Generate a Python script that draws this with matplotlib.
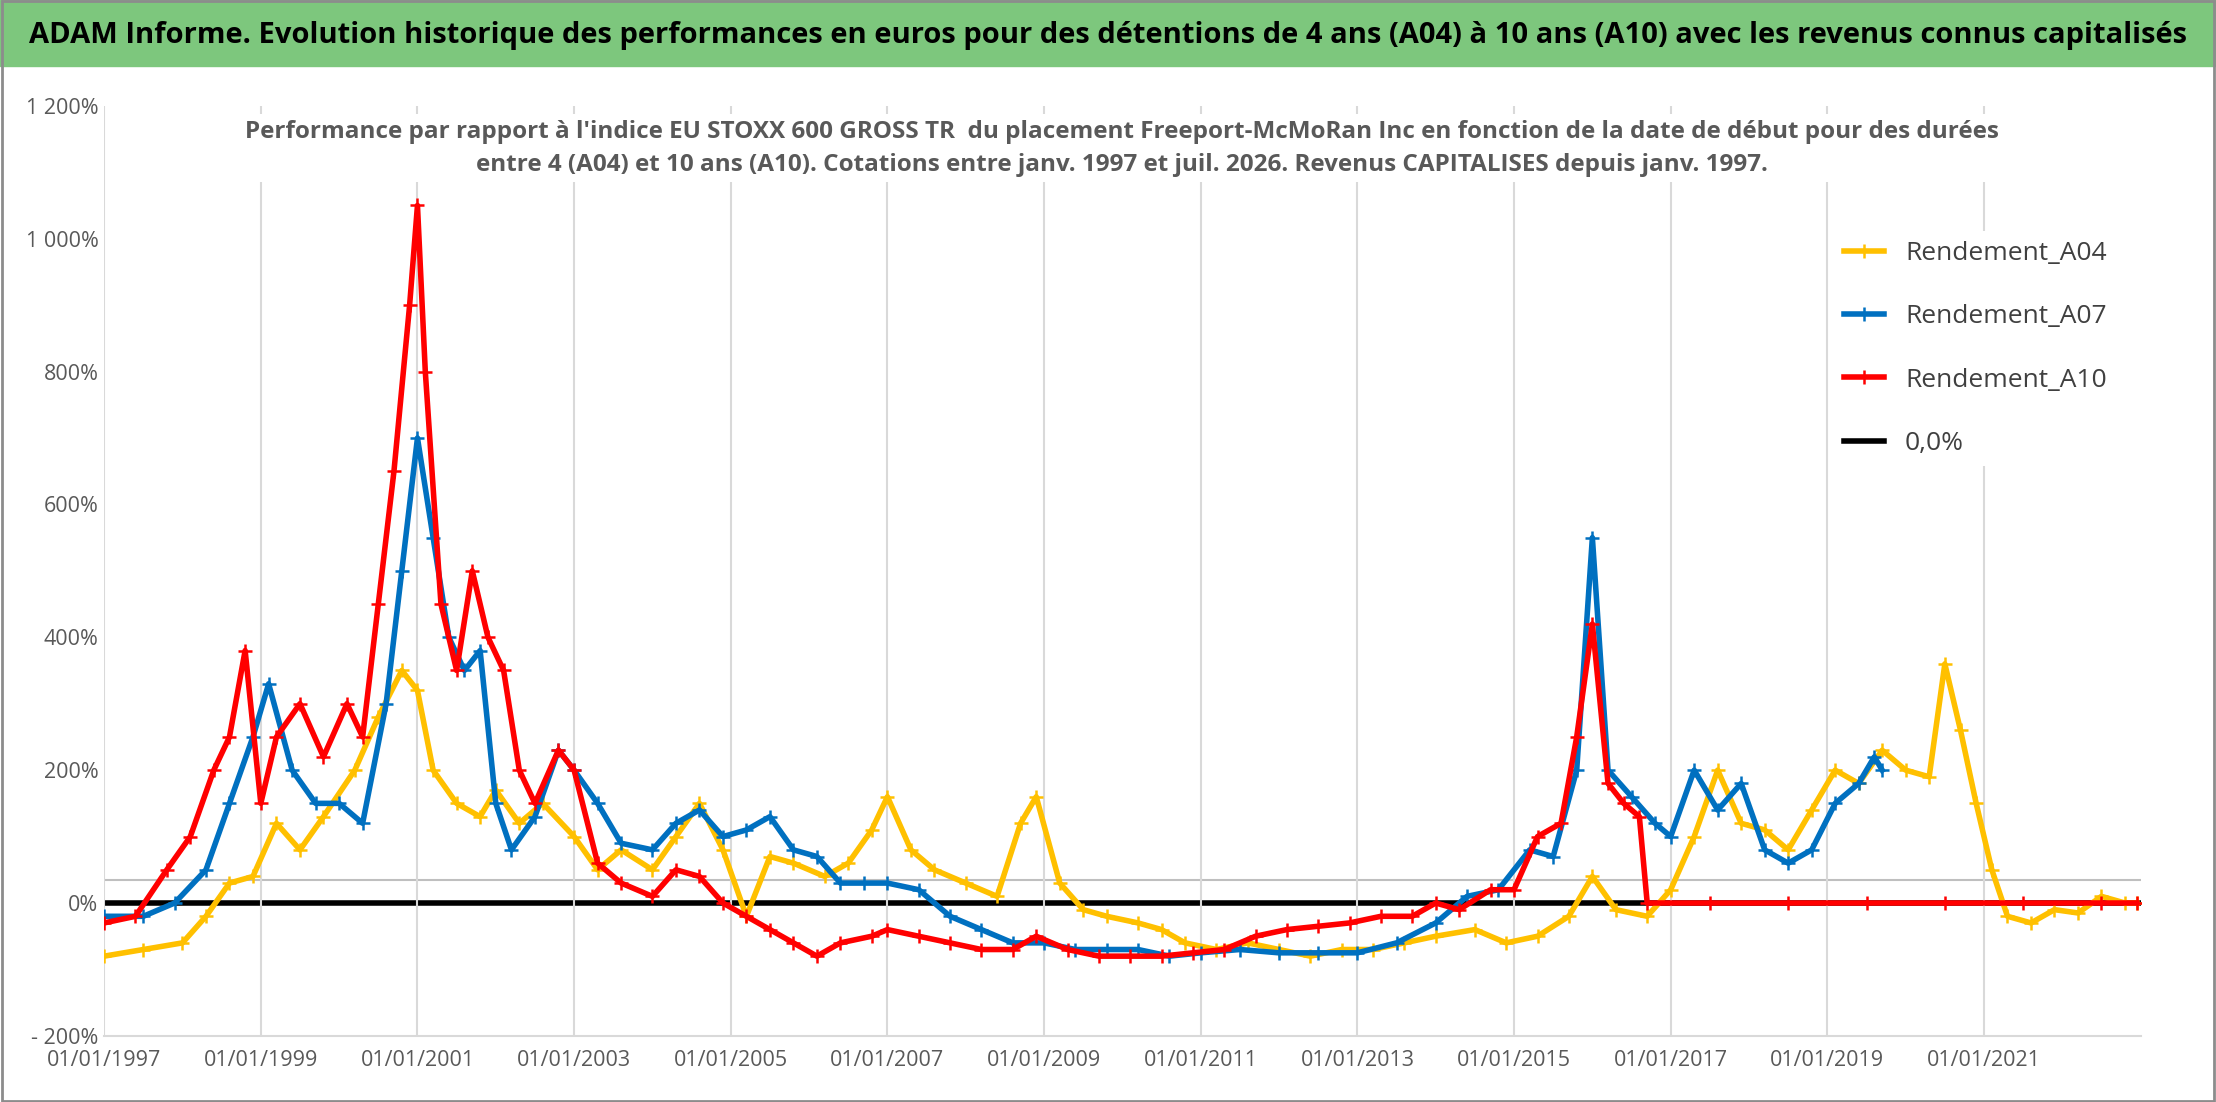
import numpy as np
import matplotlib.pyplot as plt
from matplotlib.patches import Rectangle
from matplotlib.ticker import FuncFormatter

plt.rcParams['font.family'] = ['Open Sans', 'DejaVu Sans']

a04_x = [1997.0, 1997.5, 1998.0, 1998.3, 1998.6, 1998.9, 1999.2, 1999.5, 1999.8, 2000.2, 2000.5, 2000.8,
         2001.0, 2001.2, 2001.5, 2001.8, 2002.0, 2002.3, 2002.6, 2003.0, 2003.3, 2003.6, 2004.0, 2004.3,
         2004.6, 2004.9, 2005.2, 2005.5, 2005.8, 2006.2, 2006.5, 2006.8, 2007.0, 2007.3, 2007.6, 2008.0,
         2008.4, 2008.7, 2008.9, 2009.2, 2009.5, 2009.8, 2010.2, 2010.5, 2010.8, 2011.2, 2011.6, 2012.0,
         2012.4, 2012.8, 2013.2, 2013.6, 2014.0, 2014.5, 2014.9, 2015.3, 2015.7, 2016.0, 2016.3, 2016.7,
         2017.0, 2017.3, 2017.6, 2017.9, 2018.2, 2018.5, 2018.8, 2019.1, 2019.4, 2019.7, 2020.0, 2020.3,
         2020.5, 2020.7, 2020.9, 2021.1, 2021.3, 2021.6, 2021.9, 2022.2, 2022.5, 2022.8, 2022.95]
a04_y = [-80, -70, -60, -20, 30, 40, 120, 80, 130, 200, 280, 350,
         320, 200, 150, 130, 170, 120, 150, 100, 50, 80, 50, 100,
         150, 80, -20, 70, 60, 40, 60, 110, 160, 80, 50, 30,
         10, 120, 160, 30, -10, -20, -30, -40, -60, -70, -60, -70,
         -80, -70, -70, -60, -50, -40, -60, -50, -20, 40, -10, -20,
         20, 100, 200, 120, 110, 80, 140, 200, 180, 230, 200, 190,
         360, 260, 150, 50, -20, -30, -10, -15, 10, 0, 0]

a07_x = [1997.0, 1997.5, 1997.9, 1998.3, 1998.6, 1998.9, 1999.1, 1999.4, 1999.7, 2000.0, 2000.3, 2000.6,
         2000.8, 2001.0, 2001.2, 2001.4, 2001.6, 2001.8, 2002.0, 2002.2, 2002.5, 2002.8, 2003.0, 2003.3,
         2003.6, 2004.0, 2004.3, 2004.6, 2004.9, 2005.2, 2005.5, 2005.8, 2006.1, 2006.4, 2006.7, 2007.0,
         2007.4, 2007.8, 2008.2, 2008.6, 2009.0, 2009.4, 2009.8, 2010.2, 2010.6, 2011.0, 2011.5, 2012.0,
         2012.5, 2013.0, 2013.5, 2014.0, 2014.4, 2014.8, 2015.2, 2015.5, 2015.8, 2016.0, 2016.2, 2016.5,
         2016.8, 2017.0, 2017.3, 2017.6, 2017.9, 2018.2, 2018.5, 2018.8, 2019.1, 2019.4, 2019.6, 2019.7]
a07_y = [-20, -20, 0, 50, 150, 250, 330, 200, 150, 150, 120, 300,
         500, 700, 550, 400, 350, 380, 150, 80, 130, 230, 200, 150,
         90, 80, 120, 140, 100, 110, 130, 80, 70, 30, 30, 30,
         20, -20, -40, -60, -60, -70, -70, -70, -80, -75, -70, -75,
         -75, -75, -60, -30, 10, 20, 80, 70, 200, 550, 200, 160,
         120, 100, 200, 140, 180, 80, 60, 80, 150, 180, 220, 200]

a10_x = [1997.0, 1997.4, 1997.8, 1998.1, 1998.4, 1998.6, 1998.8, 1999.0, 1999.2, 1999.5, 1999.8, 2000.1,
         2000.3, 2000.5, 2000.7, 2000.9, 2001.0, 2001.1, 2001.3, 2001.5, 2001.7, 2001.9, 2002.1, 2002.3,
         2002.5, 2002.8, 2003.0, 2003.3, 2003.6, 2004.0, 2004.3, 2004.6, 2004.9, 2005.2, 2005.5, 2005.8,
         2006.1, 2006.4, 2006.8, 2007.0, 2007.4, 2007.8, 2008.2, 2008.6, 2008.9, 2009.3, 2009.7, 2010.1,
         2010.5, 2010.9, 2011.3, 2011.7, 2012.1, 2012.5, 2012.9, 2013.3, 2013.7, 2014.0, 2014.3, 2014.7,
         2015.0, 2015.3, 2015.6, 2015.8, 2016.0, 2016.2, 2016.4, 2016.6,
         2016.7, 2017.5, 2018.5, 2019.5, 2020.5, 2021.5, 2022.5, 2022.95]
a10_y = [-30, -20, 50, 100, 200, 250, 380, 150, 250, 300, 220, 300,
         250, 450, 650, 900, 1050, 800, 450, 350, 500, 400, 350, 200,
         150, 230, 200, 60, 30, 10, 50, 40, 0, -20, -40, -60,
         -80, -60, -50, -40, -50, -60, -70, -70, -50, -70, -80, -80,
         -80, -75, -70, -50, -40, -35, -30, -20, -20, 0, -10, 20,
         20, 100, 120, 250, 420, 180, 150, 130,
         0, 0, 0, 0, 0, 0, 0, 0]

years = np.arange(1997, 2023, 2)
tick_labels = ['01/01/%d' % y for y in years]

fig = plt.figure(figsize=(22.16, 11.02), dpi=100)
fig.patches.append(Rectangle((0, 0.94), 1, 0.06, transform=fig.transFigure, color='#7dc77d', zorder=0))
fig.patches.append(Rectangle((0.001, 0.001), 0.998, 0.998, transform=fig.transFigure, fill=False,
                             edgecolor='#8c8c8c', lw=2))
fig.text(0.5, 0.968, "ADAM Informe. Evolution historique des performances en euros pour des détentions de 4 ans (A04) à 10 ans (A10) avec les revenus connus capitalisés",
         ha='center', va='center', fontsize=21, fontweight='bold', color='black')

ax = fig.add_axes([0.047, 0.06, 0.919, 0.844])
ax.axhline(0, color='black', lw=4, zorder=1, label='0,0%')
ax.axhline(35, color='#bfbfbf', lw=1.5, zorder=0)
ax.plot(a04_x, a04_y, color='#ffc000', lw=4, marker='+', ms=10, mew=1.8, label='Rendement_A04', zorder=2)
ax.plot(a07_x, a07_y, color='#0070c0', lw=4, marker='+', ms=10, mew=1.8, label='Rendement_A07', zorder=3)
ax.plot(a10_x, a10_y, color='#ff0000', lw=4, marker='+', ms=10, mew=1.8, label='Rendement_A10', zorder=4)

ax.set_xlim(1997, 2023)
ax.set_ylim(-200, 1200)
ax.set_xticks(years)
ax.set_xticklabels(tick_labels)
ax.set_yticks(np.arange(-200, 1201, 200))
ax.yaxis.set_major_formatter(FuncFormatter(
    lambda v, p: ('- ' if v < 0 else '') + ('{:,.0f}'.format(abs(v)).replace(',', ' ')) + '%'))
ax.grid(axis='x', color='#d9d9d9', lw=1.5)
for s in ['top', 'right', 'left']:
    ax.spines[s].set_visible(False)
ax.spines['bottom'].set_color('#d9d9d9')
ax.spines['bottom'].set_linewidth(1.5)
ax.tick_params(length=0, labelsize=15.5, colors='#595959', pad=10)
ax.tick_params(axis='y', pad=4)

ax.text(0.5, 0.985, "Performance par rapport à l'indice EU STOXX 600 GROSS TR  du placement Freeport-McMoRan Inc en fonction de la date de début pour des durées\nentre 4 (A04) et 10 ans (A10). Cotations entre janv. 1997 et juil. 2026. Revenus CAPITALISES depuis janv. 1997.",
        transform=ax.transAxes, ha='center', va='top', fontsize=17.5, fontweight='bold', color='#595959',
        linespacing=1.5, bbox=dict(facecolor='white', edgecolor='none'))

h, l = ax.get_legend_handles_labels()
order = [1, 2, 3, 0]
leg = ax.legend([h[i] for i in order], [l[i] for i in order], loc='upper right',
                bbox_to_anchor=(0.995, 0.88), frameon=True, fontsize=19, labelspacing=1.45,
                handlelength=1.5, edgecolor='none', framealpha=1)
for t in leg.get_texts():
    t.set_color('#404040')

fig.savefig('out.png', dpi=100)
